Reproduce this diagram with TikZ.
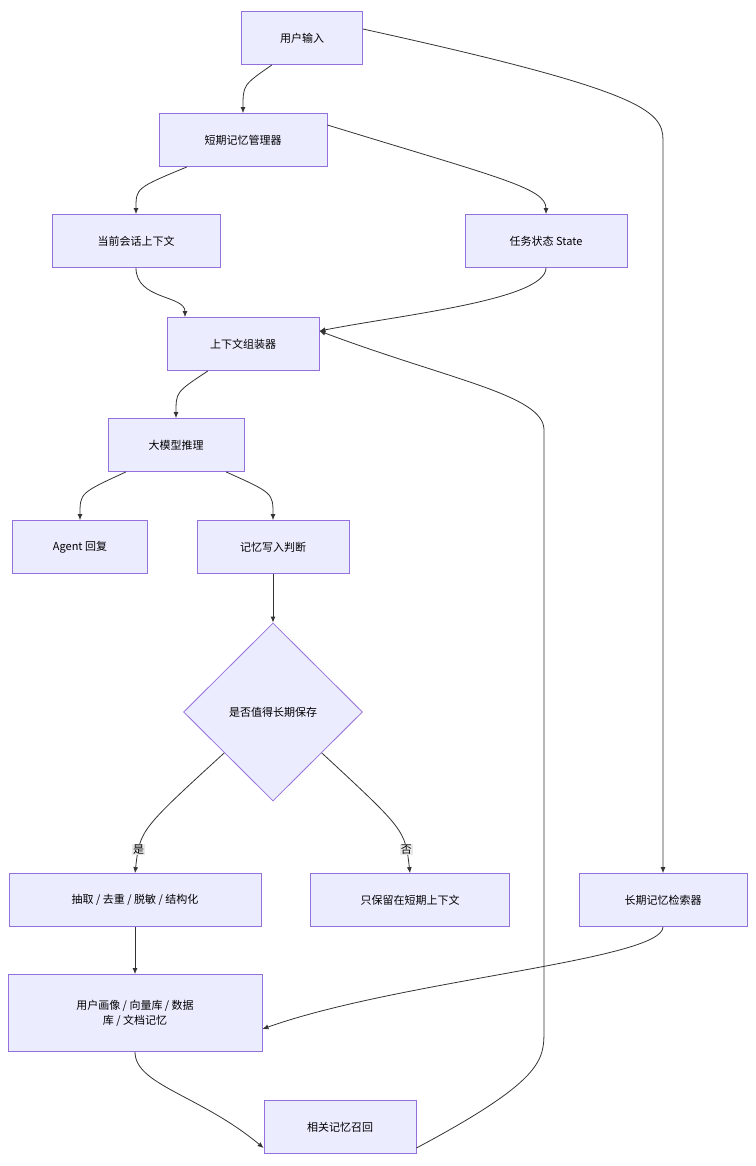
\documentclass[tikz,border=0pt]{standalone}
\usepackage{fontspec}
\setmainfont{Noto Sans CJK SC}
\usetikzlibrary{shapes.geometric,arrows.meta}
\definecolor{boxfill}{HTML}{ECECFF}
\definecolor{boxline}{HTML}{9370DB}
\definecolor{edge}{HTML}{333333}
\tikzset{
  box/.style={draw=boxline, fill=boxfill, line width=0.8pt, minimum height=53pt, align=center, font=\fontsize{11}{15}\selectfont},
  flow/.style={draw=edge, line width=0.8pt, -{Latex[length=6pt,width=5pt]}},
  tag/.style={fill=black!9, inner sep=1pt, font=\fontsize{11}{13}\selectfont}
}
\begin{document}
\begin{tikzpicture}[x=1pt,y=-1pt]
            \useasboundingbox (0,0) rectangle (755,1166);
            \node[box, minimum width=121pt] (U) at (302,38) {用户输入};
            \node[box, minimum width=168pt] (S) at (243,140) {短期记忆管理器};
            \node[box, minimum width=168pt] (C) at (136,241) {当前会话上下文};
            \node[box, minimum width=162pt] (T) at (546,241) {任务状态 State};
            \node[box, minimum width=152pt] (A) at (243,344) {上下文组装器};
            \node[box, minimum width=136pt] (M) at (176,445) {大模型推理};
            \node[box, minimum width=135pt] (R) at (80,547) {Agent 回复};
            \node[box, minimum width=152pt] (W) at (273,547) {记忆写入判断};
            \node[draw=boxline, fill=boxfill, line width=0.8pt, diamond, minimum width=179pt, minimum height=178pt, inner sep=0pt, font=\fontsize{11}{15}\selectfont] (D) at (273,712) {是否值得长期保存};
            \node[box, minimum width=252pt] (E) at (135,900) {抽取 / 去重 / 脱敏 / 结构化};
            \node[box, minimum width=199pt] (K) at (410,900) {只保留在短期上下文};
            \node[box, minimum width=168pt] (L) at (663,900) {长期记忆检索器};
            \node[box, minimum width=254pt, minimum height=77pt] (P) at (135,1013) {用户画像 / 向量库 / 数据\\库 / 文档记忆};
            \node[box, minimum width=152pt] (H) at (340,1127) {相关记忆召回};

            \draw[flow] ([xshift=-30pt]U.south) .. controls (243,85) .. (S.north);
            \draw[flow] ([yshift=9pt]U.east) .. controls (640,90) and (663,110) .. (663,140) -- (L.north);
            \draw[flow] ([xshift=-56pt]S.south) .. controls (136,188) .. (C.north);
            \draw[flow] ([yshift=15pt]S.east) .. controls (500,178) and (546,188) .. (T.north);
            \draw[flow] (C.south) .. controls (136,300) and (185,295) .. ([xshift=-58pt]A.north);
            \draw[flow] (T.south) .. controls (546,300) and (400,315) .. ([yshift=13pt]A.east);
            \draw[flow] ([xshift=-35pt]A.south) .. controls (176,392) .. (M.north);
            \draw[flow] ([xshift=-50pt]M.south) .. controls (80,493) .. (R.north);
            \draw[flow] ([xshift=50pt]M.south) .. controls (273,493) .. (W.north);
            \draw[flow] (W.south) -- (D.north);
            \draw[flow] (D.220) .. controls (140,830) .. node[tag, pos=0.78] {是} (E.north);
            \draw[flow] (D.320) .. controls (405,830) .. node[tag, pos=0.78] {否} (K.north);
            \draw[flow] (E.south) -- (P.north);
            \draw[flow] (L.south) .. controls (663,960) and (400,980) .. ([yshift=-16pt]P.east);
            \draw[flow] (P.south) .. controls (135,1085) and (200,1095) .. ([yshift=-21pt]H.west);
            \draw[flow] ([yshift=-21pt]H.east) .. controls (544,1080) and (544,1060) .. (544,1030) -- (544,430) .. controls (544,395) and (450,380) .. ([yshift=13pt]A.east);
        \end{tikzpicture}
\end{document}
